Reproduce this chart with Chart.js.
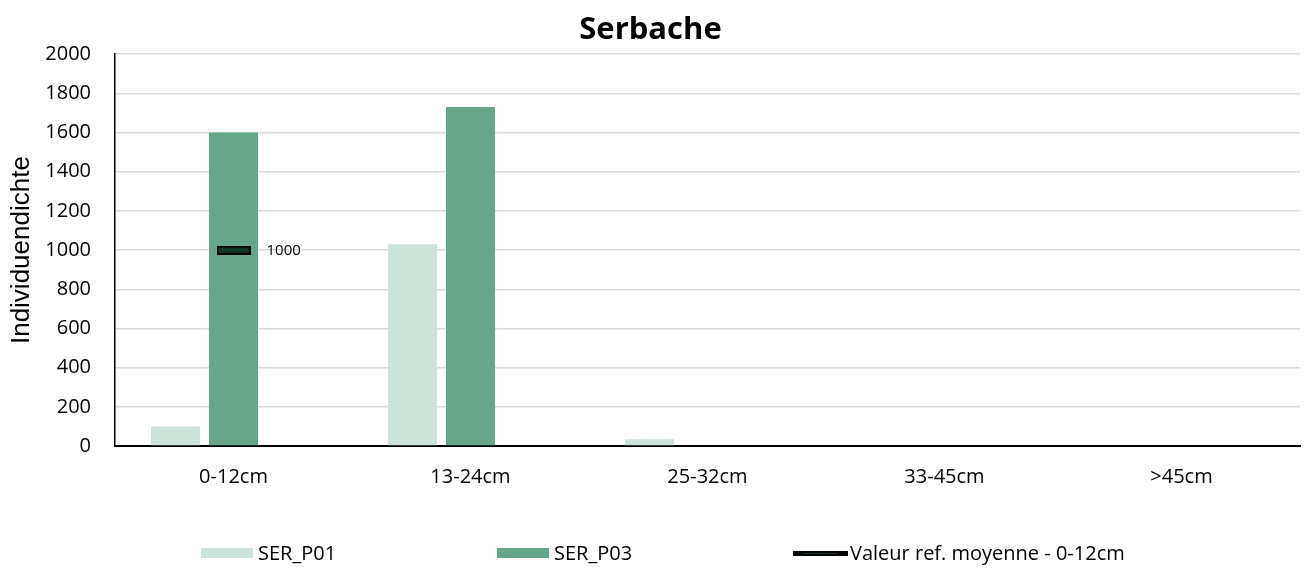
<!DOCTYPE html>
<html>
<head>
<meta charset="utf-8">
<title>Serbache</title>
<script src="https://cdn.jsdelivr.net/npm/chart.js@4/dist/chart.umd.min.js"></script>
<style>
  body { margin: 0; background: #fff; }
</style>
</head>
<body>
<canvas id="serbacheChart" width="1306" height="569"></canvas>
<script>
// size classes on the x axis
const classes = ['0-12cm', '13-24cm', '25-32cm', '33-45cm', '>45cm'];
// individual density per site
const serP01 = [100, 1030, 35, 0, 0];
const serP03 = [1600, 1730, 0, 0, 0];
// mean reference value, only given for the 0-12cm class
const refMoyenne = [1000, null, null, null, null];
// y axis
const yMin = 0;
const yMax = 2000;
const yStep = 200;

const FONT = '"Open Sans", "DejaVu Sans", sans-serif';

// flat dark-green bar with black outline used as the reference marker
function makeRefMarker() {
  const c = document.createElement('canvas');
  c.width = 34; c.height = 9;
  const g = c.getContext('2d');
  g.fillStyle = '#000';
  g.fillRect(0, 0, 34, 9);
  g.fillStyle = '#0b3a27';
  g.fillRect(2, 2, 30, 5);
  return c;
}

// legend swatch for the reference series
function makeRefSwatch() {
  const c = document.createElement('canvas');
  c.width = 55; c.height = 5;
  const g = c.getContext('2d');
  g.fillStyle = '#000';
  g.fillRect(0, 0, 55, 5);
  g.fillStyle = '#0b3a27';
  g.fillRect(10, 2, 35, 1);
  return c;
}

const refMarker = makeRefMarker();
const refSwatch = makeRefSwatch();

// writes the value to the right of each reference marker
const refLabels = {
  id: 'refLabels',
  afterDatasetsDraw(chart) {
    const ctx = chart.ctx;
    chart.data.datasets.forEach((ds, i) => {
      if (ds.type !== 'line') return;
      const meta = chart.getDatasetMeta(i);
      meta.data.forEach((pt, j) => {
        const v = ds.data[j];
        if (v === null || v === undefined) return;
        ctx.save();
        ctx.font = '15px ' + FONT;
        ctx.fillStyle = '#000';
        ctx.textAlign = 'left';
        ctx.textBaseline = 'middle';
        ctx.fillText(String(v), pt.x + 33, pt.y + 1);
        ctx.restore();
      });
    });
  }
};

// legend row under the chart, items on an even spacing
const spacedLegend = {
  id: 'spacedLegend',
  afterDraw(chart, args, opts) {
    const ctx = chart.ctx;
    let x = opts.left;
    const y = opts.y;
    ctx.save();
    ctx.font = '20px ' + FONT;
    ctx.textBaseline = 'middle';
    ctx.textAlign = 'left';
    chart.data.datasets.forEach((ds) => {
      if (!ds.label) return;
      if (ds.type === 'line') {
        ctx.drawImage(refSwatch, x, y - 2);
      } else {
        ctx.fillStyle = ds.backgroundColor;
        ctx.fillRect(x, y - 5, 52, 10);
      }
      ctx.fillStyle = '#000';
      ctx.fillText(ds.label, x + 57, y + 1);
      x += opts.step;
    });
    ctx.restore();
  }
};

const ctx = document.getElementById('serbacheChart').getContext('2d');

new Chart(ctx, {
  type: 'bar',
  data: {
    labels: classes,
    datasets: [
      {
        label: 'SER_P01',
        data: serP01,
        backgroundColor: '#cde3d9',
        order: 2
      },
      {
        label: 'SER_P03',
        data: serP03,
        backgroundColor: '#66a68a',
        order: 2
      },
      {
        // empty third slot so the groups sit like the workbook layout
        label: '',
        data: [],
        backgroundColor: 'rgba(0,0,0,0)',
        order: 3
      },
      {
        type: 'line',
        label: 'Valeur ref. moyenne - 0-12cm',
        data: refMoyenne,
        showLine: false,
        pointStyle: refMarker,
        pointRadius: 5,
        borderColor: '#000',
        backgroundColor: '#0b3a27',
        order: 1
      }
    ]
  },
  options: {
    responsive: false,
    animation: false,
    layout: {
      padding: { left: 0, right: 5, top: 0, bottom: 63 }
    },
    datasets: {
      bar: {
        categoryPercentage: 0.734,
        barPercentage: 0.845
      }
    },
    scales: {
      x: {
        grid: { display: false, drawTicks: false },
        border: { display: true, color: '#000', width: 2 },
        ticks: {
          color: '#000',
          padding: 19,
          font: { family: FONT, size: 20 }
        },
        afterFit(scale) { scale.height = 60; }
      },
      y: {
        min: yMin,
        max: yMax,
        grid: { color: '#d9d9d9', lineWidth: 1.5, drawTicks: false },
        border: { display: true, color: '#000', width: 1.5 },
        ticks: {
          stepSize: yStep,
          color: '#000',
          padding: 24,
          font: { family: FONT, size: 20 },
          callback: (v) => String(v)
        },
        title: {
          display: true,
          text: 'Individuendichte',
          color: '#000',
          padding: { top: 6, bottom: 0 },
          font: { family: '"Liberation Sans", Arial, sans-serif', size: 26 }
        },
        afterFit(scale) { scale.width = 115; }
      }
    },
    plugins: {
      legend: { display: false },
      title: {
        display: true,
        text: 'Serbache',
        color: '#000',
        padding: { top: 12, bottom: 5 },
        font: { family: FONT, size: 31, weight: 'bold' }
      },
      spacedLegend: { left: 201, step: 296, y: 553 }
    }
  },
  plugins: [refLabels, spacedLegend]
});
</script>
</body>
</html>
